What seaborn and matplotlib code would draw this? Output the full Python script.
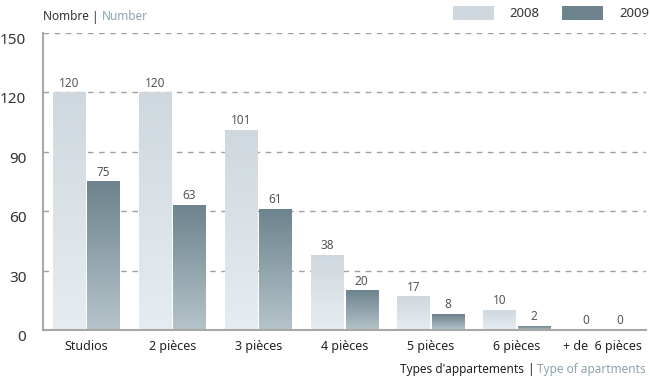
import numpy as np
import pandas as pd
import matplotlib.pyplot as plt
import matplotlib.transforms as mtransforms
import seaborn as sns
from matplotlib.colors import LinearSegmentedColormap
from matplotlib.patches import Patch

# --- data ---
categories = ["Studios", "2 pièces", "3 pièces", "4 pièces", "5 pièces", "6 pièces", "+ de  6 pièces"]
years = ["2008", "2009"]
values_2008 = [120, 120, 101, 38, 17, 10, 0]
values_2009 = [75, 63, 61, 20, 8, 2, 0]
y_ticks = [0, 30, 60, 90, 120, 150]

df = pd.DataFrame({
    "type": categories * 2,
    "year": [years[0]] * len(categories) + [years[1]] * len(categories),
    "count": values_2008 + values_2009,
})

# colours: (top, bottom) of each gradient
grad = {
    "2008": ("#cfd8de", "#e6edf2"),
    "2009": ("#6d838d", "#b5c4ca"),
}

sns.set_style("white")
plt.rcParams["font.family"] = ["Noto Sans", "DejaVu Sans"]

fig, ax = plt.subplots(figsize=(6.5, 3.77), dpi=100)
fig.subplots_adjust(left=43 / 650, right=646 / 650, top=1 - 33 / 377, bottom=1 - 330 / 377)

sns.barplot(data=df, x="type", y="count", hue="year", hue_order=years,
            palette=[grad[y][0] for y in years], width=0.8, gap=0.06,
            ax=ax, legend=False, zorder=2)

# --- gradient fill for each bar ---
g = np.linspace(0, 1, 256).reshape(-1, 1)
for year, cont in zip(years, ax.containers):
    cmap = LinearSegmentedColormap.from_list(year, [grad[year][1], grad[year][0]])
    for bar in cont:
        h = bar.get_height()
        bar.set_facecolor("none")
        bar.set_linewidth(0)
        if h <= 0:
            continue
        x0 = bar.get_x()
        img = ax.imshow(g, cmap=cmap, origin="lower", aspect="auto",
                        extent=[x0, x0 + bar.get_width(), 0, h], zorder=2)
        img.set_clip_path(bar)
    ax.bar_label(cont, padding=2, fontsize=8.5, color="#555555")

ax.set_xlim(-0.5, len(categories) - 0.5)
ax.set_ylim(0, 150)
ax.set_yticks(y_ticks)
ax.set_axisbelow(True)
ax.yaxis.grid(True, color="#a0a0a0", linestyle=(0, (4, 4)), linewidth=1)
ax.xaxis.grid(False)

for s in ["top", "right"]:
    ax.spines[s].set_visible(False)
for s in ["left", "bottom"]:
    ax.spines[s].set_color("#a8a8a8")
    ax.spines[s].set_linewidth(1.5)

ax.tick_params(axis="y", length=0, pad=12, labelsize=11, labelcolor="#333333")
# y labels sit a little below their gridlines in the original
shift = mtransforms.ScaledTranslation(0, -4 / 72, fig.dpi_scale_trans)
for lab in ax.get_yticklabels():
    lab.set_transform(lab.get_transform() + shift)

ax.tick_params(axis="x", which="major", length=0, pad=7, labelsize=9, labelcolor="#222222")
ax.set_xticks(np.arange(len(categories)) + 0.5, minor=True)
ax.tick_params(axis="x", which="minor", direction="in", length=5, width=1.2, color="#a8a8a8")
ax.set_xlabel("")
ax.set_ylabel("")

# --- legend ---
handles = [Patch(facecolor=grad[y][0], edgecolor="none") for y in years]
fig.legend(handles, years, loc="upper right", bbox_to_anchor=(649 / 650, 1 - 6 / 377),
           ncol=2, frameon=False, fontsize=9.5, handlelength=3.1, handleheight=1.2,
           handletextpad=1.2, columnspacing=1.7, borderpad=0, borderaxespad=0,
           labelcolor="#333333")


# --- two-colour titles ---
def two_tone(x, y, parts, ha="left"):
    fig.canvas.draw()
    r = fig.canvas.get_renderer()
    texts = []
    for s, c in parts:
        texts.append(fig.text(0, y, s, color=c, fontsize=8.5, va="center"))
    widths = [t.get_window_extent(r).width / fig.bbox.width for t in texts]
    start = x if ha == "left" else x - sum(widths)
    for t, w in zip(texts, widths):
        t.set_x(start)
        start += w


two_tone(43 / 650, 1 - 17 / 377,
         [("Nombre ", "#333333"), ("| ", "#333333"), ("Number", "#8fa3ad")])
two_tone(646 / 650, 1 - 369 / 377,
         [("Types d'appartements ", "#222222"), ("| ", "#222222"), ("Type of apartments", "#8fa3ad")],
         ha="right")

fig.savefig("out.png", dpi=100)
